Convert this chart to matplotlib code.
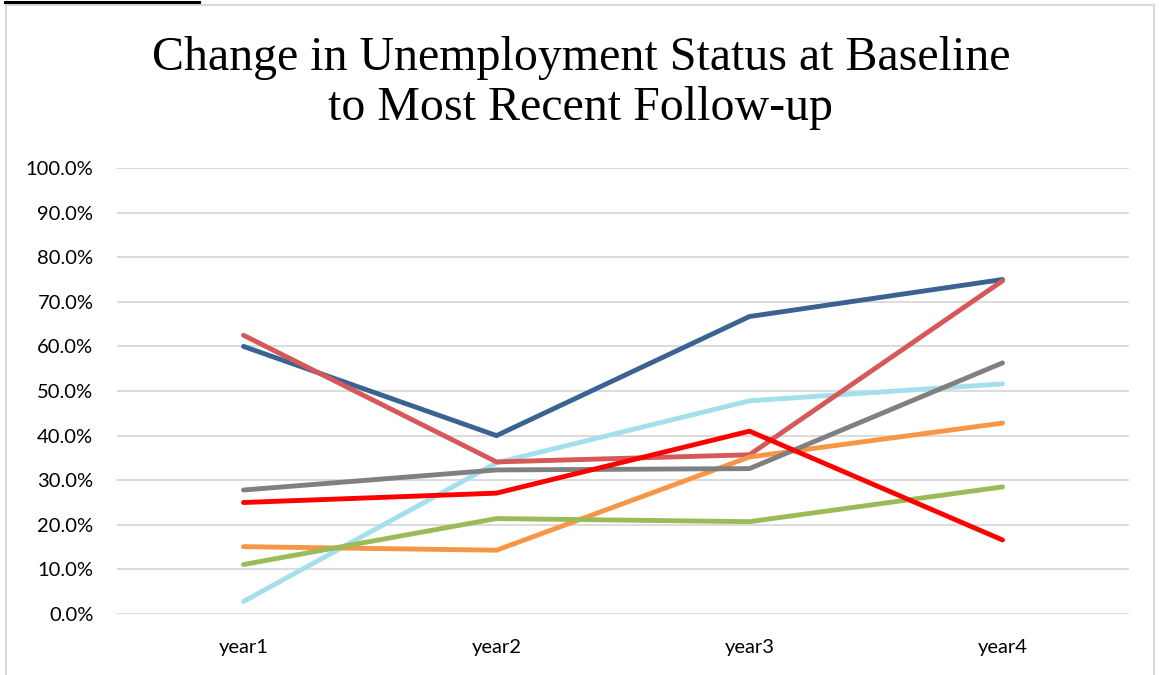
import matplotlib
matplotlib.use("Agg")
import matplotlib.pyplot as plt
from matplotlib.lines import Line2D
from matplotlib.ticker import FuncFormatter

years = ["year1", "year2", "year3", "year4"]

series_blue = [0.600, 0.400, 0.667, 0.750]
series_lightblue = [0.028, 0.339, 0.478, 0.516]
series_rose = [0.625, 0.341, 0.357, 0.747]
series_orange = [0.151, 0.143, 0.352, 0.428]
series_gray = [0.278, 0.323, 0.326, 0.563]
series_green = [0.111, 0.214, 0.207, 0.285]
series_red = [0.250, 0.271, 0.410, 0.166]

series = [
    (series_blue, "#3A6394"),
    (series_lightblue, "#A3DFEC"),
    (series_rose, "#D65858"),
    (series_orange, "#F79646"),
    (series_gray, "#808080"),
    (series_green, "#9BBB59"),
    (series_red, "#FF0000"),
]

fig = plt.figure(figsize=(11.59, 6.75), dpi=100)
ax = fig.add_axes([117 / 1159, 1 - 614 / 675, (1129 - 117) / 1159, (614 - 168) / 675])

x = list(range(len(years)))
for values, color in series:
    ax.plot(x, values, color=color, linewidth=3.5, solid_capstyle="round",
            solid_joinstyle="miter")

ax.set_xlim(-0.5, len(years) - 0.5)
ax.set_ylim(0, 1.0)
ax.set_yticks([i / 10 for i in range(11)])
ax.yaxis.set_major_formatter(FuncFormatter(lambda v, _: f"{v * 100:.1f}%"))
ax.set_xticks(x)
ax.set_xticklabels(years)
ax.grid(axis="y", color="#D9D9D9", linewidth=1.3)
ax.set_axisbelow(True)
for s in ax.spines.values():
    s.set_visible(False)
ax.tick_params(axis="both", length=0, labelsize=14.5, colors="#000000")
ax.tick_params(axis="y", pad=17)
ax.tick_params(axis="x", pad=18)
for lbl in ax.get_xticklabels() + ax.get_yticklabels():
    lbl.set_fontfamily("Lato")

fig.text(581 / 1159, 1 - 83 / 675,
         "Change in Unemployment Status at Baseline\nto Most Recent Follow-up",
         ha="center", va="center", fontsize=34.5, family="Liberation Serif",
         linespacing=1.2)

# chart frame and the rule above it
border = "#D9D9D9"
fig.add_artist(Line2D([5.5 / 1159, 1153.5 / 1159], [1 - 4.5 / 675] * 2, color=border, lw=1.5))
fig.add_artist(Line2D([5.5 / 1159] * 2, [0, 1 - 4.5 / 675], color=border, lw=1.5))
fig.add_artist(Line2D([1153.5 / 1159] * 2, [0, 1 - 4.5 / 675], color=border, lw=1.5))
fig.add_artist(Line2D([5 / 1159, 199 / 1159], [1 - 1.5 / 675] * 2, color="black", lw=2.2))

fig.savefig("out.png", dpi=100)
